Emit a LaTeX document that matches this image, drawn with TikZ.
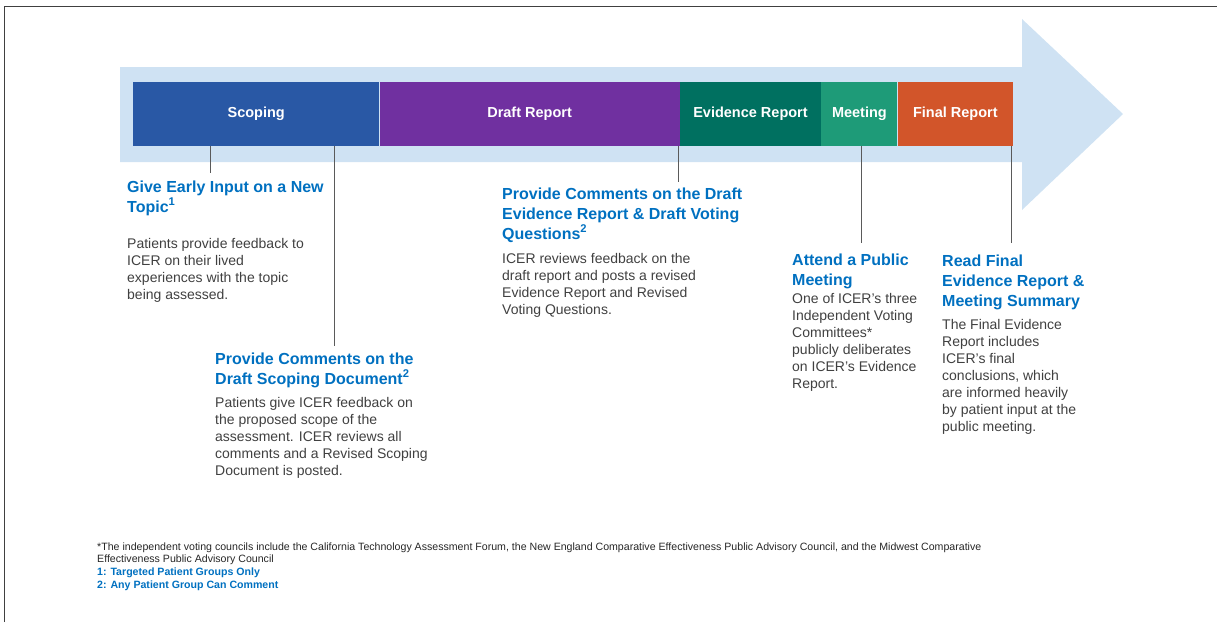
\documentclass[tikz,border=0pt]{standalone}
\usepackage{fontspec}
\setmainfont{Liberation Sans}
\usepackage{xcolor}
\usetikzlibrary{positioning}

\definecolor{arrowbg}{RGB}{207,226,243}
\definecolor{scopeblue}{RGB}{41,88,165}
\definecolor{draftpurple}{RGB}{112,48,160}
\definecolor{evidteal}{RGB}{0,112,96}
\definecolor{meetgreen}{RGB}{30,155,120}
\definecolor{finalorange}{RGB}{210,85,42}
\definecolor{headblue}{RGB}{0,112,192}
\definecolor{bodygray}{RGB}{64,64,64}
\definecolor{tickgray}{RGB}{90,90,90}

\begin{document}
\begin{tikzpicture}[x=1pt,y=-1pt]
\tikzstyle{every node}+=[inner sep=0pt]
\tikzstyle{phase}=[minimum height=64pt,text=white,font=\fontsize{14.5}{17}\selectfont\bfseries]
\tikzstyle{head}=[anchor=base west,align=left,text=headblue,font=\fontsize{16}{20}\selectfont\bfseries]
\tikzstyle{body}=[anchor=base west,align=left,text=bodygray,font=\fontsize{14}{17}\selectfont]
\tikzstyle{tick}=[draw=tickgray,line width=1pt]
\tikzstyle{foot}=[anchor=base west,align=left,font=\fontsize{10.6}{11.5}\selectfont]

\useasboundingbox (0,0) rectangle (1217,622);
\draw [black!75,line width=1pt] (4,622) -- (4,6) -- (1217,6);

% big arrow behind the phases
\fill [arrowbg] (120,67) -- (1022,67) -- (1022,19) -- (1123,114) -- (1022,210) -- (1022,162) -- (120,162) -- cycle;

% phases
\node [phase,fill=scopeblue,minimum width=246pt,anchor=west] (scoping) at (133,114) {Scoping};
\node [phase,fill=draftpurple,minimum width=300pt,right=0pt of scoping] (draft) {Draft Report};
\node [phase,fill=evidteal,minimum width=141pt,right=0pt of draft] (evidence) {Evidence Report};
\node [phase,fill=meetgreen,minimum width=76pt,right=0pt of evidence] (meeting) {Meeting};
\node [phase,fill=finalorange,minimum width=115pt,right=0pt of meeting] (final) {Final Report};

% steps (base = baseline of the last line)
\node [head] (early) at (127,212) {Give Early Input on a New\\Topic\textsuperscript{1}};
\node [body] (earlytxt) at (127,299) {Patients provide feedback to\\ICER on their lived\\experiences with the topic\\being assessed.};

\node [head] (scopedoc) at (215,384) {Provide Comments on the\\Draft Scoping Document\textsuperscript{2}};
\node [body] (scopedoctxt) at (215,475) {Patients give ICER feedback on\\the proposed scope of the\\assessment. ICER reviews all\\comments and a Revised Scoping\\Document is posted.};

\node [head] (draftcom) at (502,239) {Provide Comments on the Draft\\Evidence Report \& Draft Voting\\Questions\textsuperscript{2}};
\node [body] (draftcomtxt) at (502,314) {ICER reviews feedback on the\\draft report and posts a revised\\Evidence Report and Revised\\Voting Questions.};

\node [head] (attend) at (792,285) {Attend a Public\\Meeting};
\node [body] (attendtxt) at (792,388) {One of ICER's three\\Independent Voting\\Committees*\\publicly deliberates\\on ICER's Evidence\\Report.};

\node [head] (readfinal) at (942,306) {Read Final\\Evidence Report \&\\Meeting Summary};
\node [body] (readfinaltxt) at (942,431) {The Final Evidence\\Report includes\\ICER's final\\conclusions, which\\are informed heavily\\by patient input at the\\public meeting.};

% ticks from the bar
\coordinate (t1) at (210,173);
\coordinate (t2) at (334,346);
\coordinate (t3) at (678,182);
\coordinate (t4) at (861,243);
\coordinate (t5) at (1011,243);
\draw [tick] (scoping.south -| t1) -- (t1);
\draw [tick] (scoping.south -| t2) -- (t2);
\draw [tick] (draft.south -| t3) -- (t3);
\draw [tick] (meeting.south -| t4) -- (t4);
\draw [tick] (final.south -| t5) -- (t5);

% footnotes
\node [foot,text=black!85] (note) at (97,562) {*The independent voting councils include the California Technology Assessment Forum, the New England Comparative Effectiveness Public Advisory Council, and the Midwest Comparative\\Effectiveness Public Advisory Council};
\node [foot,text=headblue,font=\fontsize{10.6}{12}\selectfont\bfseries] (key1) at (97,575) {1: Targeted Patient Groups Only};
\node [foot,text=headblue,font=\fontsize{10.6}{12}\selectfont\bfseries] (key2) at (97,588) {2: Any Patient Group Can Comment};
\end{tikzpicture}
\end{document}
